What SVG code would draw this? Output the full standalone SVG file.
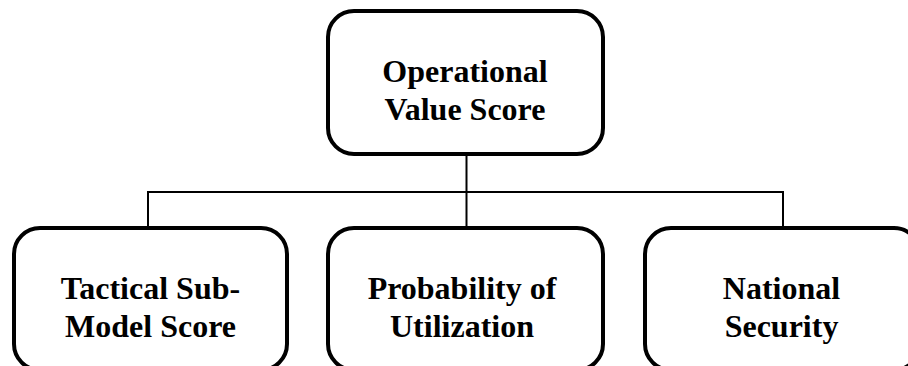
<svg xmlns="http://www.w3.org/2000/svg" width="908" height="366" viewBox="0 0 908 366">
<style>
.box{fill:#fff;stroke:#000;stroke-width:4}
.lbl{font-family:"Liberation Serif","Times New Roman",serif;font-weight:bold;font-size:32px;fill:#000;text-anchor:middle}
.conn{stroke:#000;stroke-width:2;fill:none}
</style>
<rect width="908" height="366" fill="#fff"/>
<g id="connectors">
<line class="conn" x1="466.5" y1="154" x2="466.5" y2="228"/>
<line class="conn" x1="148" y1="192" x2="783" y2="192"/>
<line class="conn" x1="148" y1="191" x2="148" y2="228"/>
<line class="conn" x1="783" y1="191" x2="783" y2="228"/>
</g>
<g id="operational-value-score">
<rect class="box" x="328" y="11" width="275" height="143" rx="26" ry="26"/>
<text class="lbl" x="465" y="82">Operational</text>
<text class="lbl" x="465" y="120">Value Score</text>
</g>
<g id="tactical-sub-model-score">
<rect class="box" x="14" y="228" width="273" height="142" rx="26" ry="26"/>
<text class="lbl" x="150.5" y="299">Tactical Sub-</text>
<text class="lbl" x="150.5" y="337">Model Score</text>
</g>
<g id="probability-of-utilization">
<rect class="box" x="328" y="228" width="275" height="142" rx="26" ry="26"/>
<text class="lbl" x="462" y="299">Probability of</text>
<text class="lbl" x="462" y="337">Utilization</text>
</g>
<g id="national-security">
<rect class="box" x="645" y="228" width="275" height="142" rx="26" ry="26"/>
<text class="lbl" x="781.5" y="299">National</text>
<text class="lbl" x="781.5" y="337">Security</text>
</g>
</svg>
